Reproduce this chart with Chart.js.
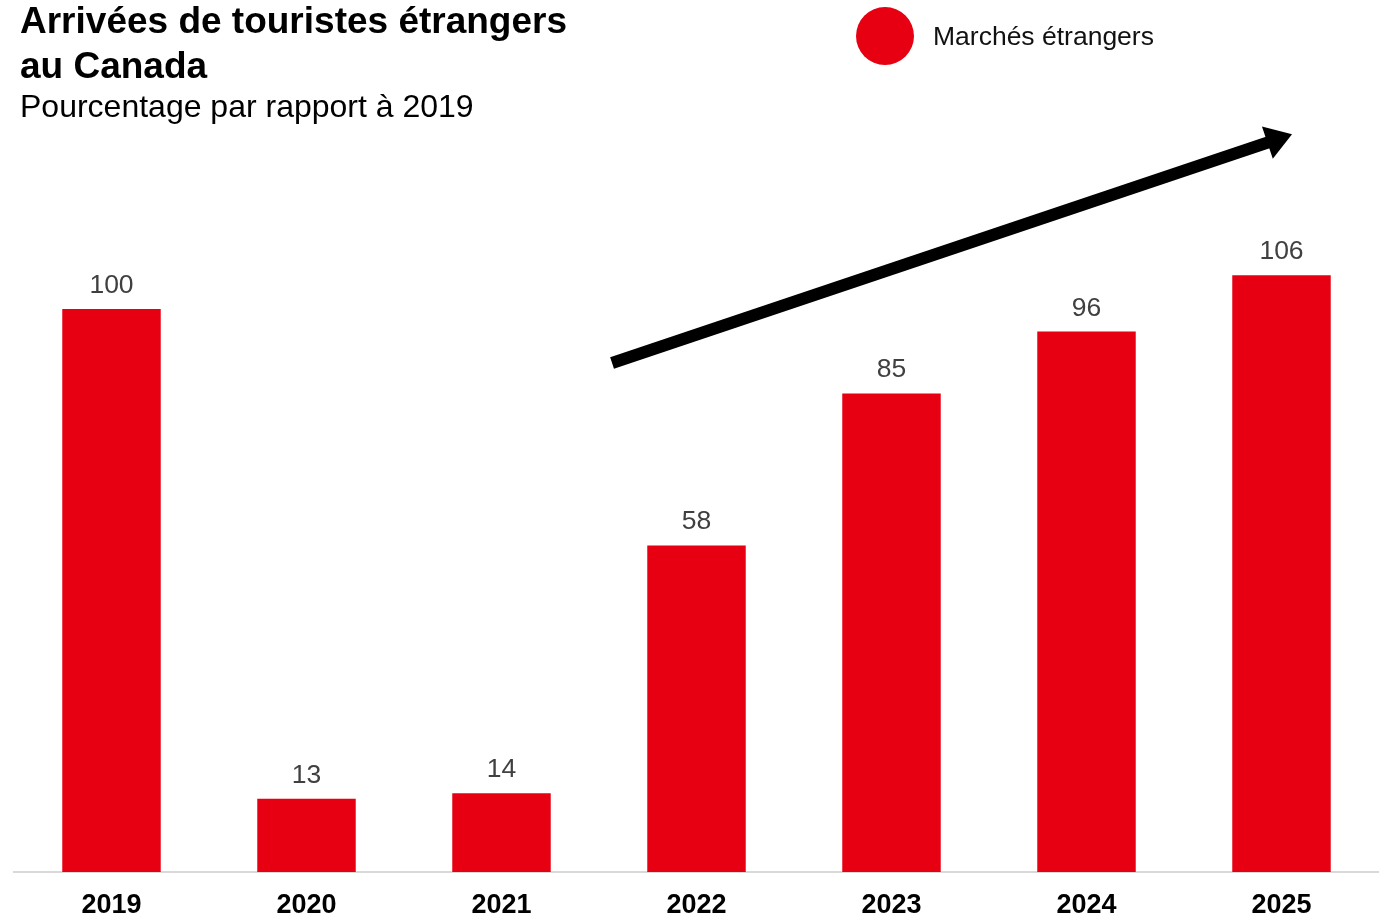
<!DOCTYPE html>
<html>
<head>
<meta charset="utf-8">
<script src="https://cdn.jsdelivr.net/npm/chart.js@4.4.0/dist/chart.umd.min.js"></script>
<style>
  html, body { margin: 0; padding: 0; background: #fff; overflow: hidden; }
  #wrap { position: relative; width: 1379px; height: 916px; font-family: "Liberation Sans", Arial, sans-serif; }
  #title { position: absolute; left: 20px; top: -2px; font-size: 37px; font-weight: bold; line-height: 45px; color: #000; }
  #subtitle { position: absolute; left: 20px; top: 88px; font-size: 32px; color: #000; }
  #legend { position: absolute; left: 856px; top: 7px; height: 58px; display: flex; align-items: center; }
  #legend .dot { width: 58px; height: 58px; border-radius: 50%; background: #E60012; }
  #legend span { margin-left: 19px; font-size: 26.5px; color: #111; }
  #chart { position: absolute; left: 0; top: 0; }
</style>
</head>
<body>
<div id="wrap">
  <canvas id="chart" width="1379" height="916"></canvas>
  <div id="title">Arrivées de touristes étrangers<br>au Canada</div>
  <div id="subtitle">Pourcentage par rapport à 2019</div>
  <div id="legend"><div class="dot"></div><span>Marchés étrangers</span></div>
</div>
<script>
const years = ['2019', '2020', '2021', '2022', '2023', '2024', '2025'];
const foreignMarkets = [100, 13, 14, 58, 85, 96, 106];

// trend arrow, in category index / value units
const arrowFrom = [2.567, 90.4];
const arrowTo = [6.054, 131];

const barLabels = {
  id: 'barLabels',
  afterDatasetsDraw(chart) {
    const ctx = chart.ctx;
    const meta = chart.getDatasetMeta(0);
    ctx.save();
    ctx.font = '26.5px "Liberation Sans", Arial, sans-serif';
    ctx.fillStyle = '#404040';
    ctx.textAlign = 'center';
    ctx.textBaseline = 'bottom';
    meta.data.forEach((bar, i) => {
      ctx.fillText(foreignMarkets[i], bar.x, bar.y - 10);
    });
    ctx.restore();
  }
};

const trendArrow = {
  id: 'trendArrow',
  afterDatasetsDraw(chart) {
    const x = chart.scales.x, y = chart.scales.y;
    const x0 = x.getPixelForValue(arrowFrom[0]), y0 = y.getPixelForValue(arrowFrom[1]);
    const x1 = x.getPixelForValue(arrowTo[0]), y1 = y.getPixelForValue(arrowTo[1]);
    const ang = Math.atan2(y1 - y0, x1 - x0);
    const headLen = 26, headW = 17;
    const bx = x1 - headLen * Math.cos(ang), by = y1 - headLen * Math.sin(ang);
    const ctx = chart.ctx;
    ctx.save();
    ctx.strokeStyle = '#000';
    ctx.fillStyle = '#000';
    ctx.lineWidth = 12;
    ctx.beginPath();
    ctx.moveTo(x0, y0);
    ctx.lineTo(bx + 2 * Math.cos(ang), by + 2 * Math.sin(ang));
    ctx.stroke();
    ctx.beginPath();
    ctx.moveTo(x1, y1);
    ctx.lineTo(bx + headW * Math.sin(ang), by - headW * Math.cos(ang));
    ctx.lineTo(bx - headW * Math.sin(ang), by + headW * Math.cos(ang));
    ctx.closePath();
    ctx.fill();
    ctx.restore();
  }
};

new Chart(document.getElementById('chart').getContext('2d'), {
  type: 'bar',
  data: {
    labels: years,
    datasets: [{
      label: 'Marchés étrangers',
      data: foreignMarkets,
      backgroundColor: '#E60012',
      categoryPercentage: 1,
      barPercentage: 0.505
    }]
  },
  options: {
    responsive: false,
    animation: false,
    layout: { padding: { left: 14, right: 0, top: 140, bottom: 0 } },
    plugins: {
      legend: { display: false },
      tooltip: { enabled: false }
    },
    scales: {
      x: {
        grid: { display: false, drawTicks: false },
        border: { color: '#d9d9d9', width: 2 },
        afterFit(scale) { scale.height = 44; },
        ticks: {
          color: '#000',
          padding: 17,
          font: { family: '"Liberation Sans", Arial, sans-serif', size: 27, weight: 'bold' }
        }
      },
      y: {
        display: false,
        min: 0,
        max: 130
      }
    }
  },
  plugins: [barLabels, trendArrow]
});
</script>
</body>
</html>
